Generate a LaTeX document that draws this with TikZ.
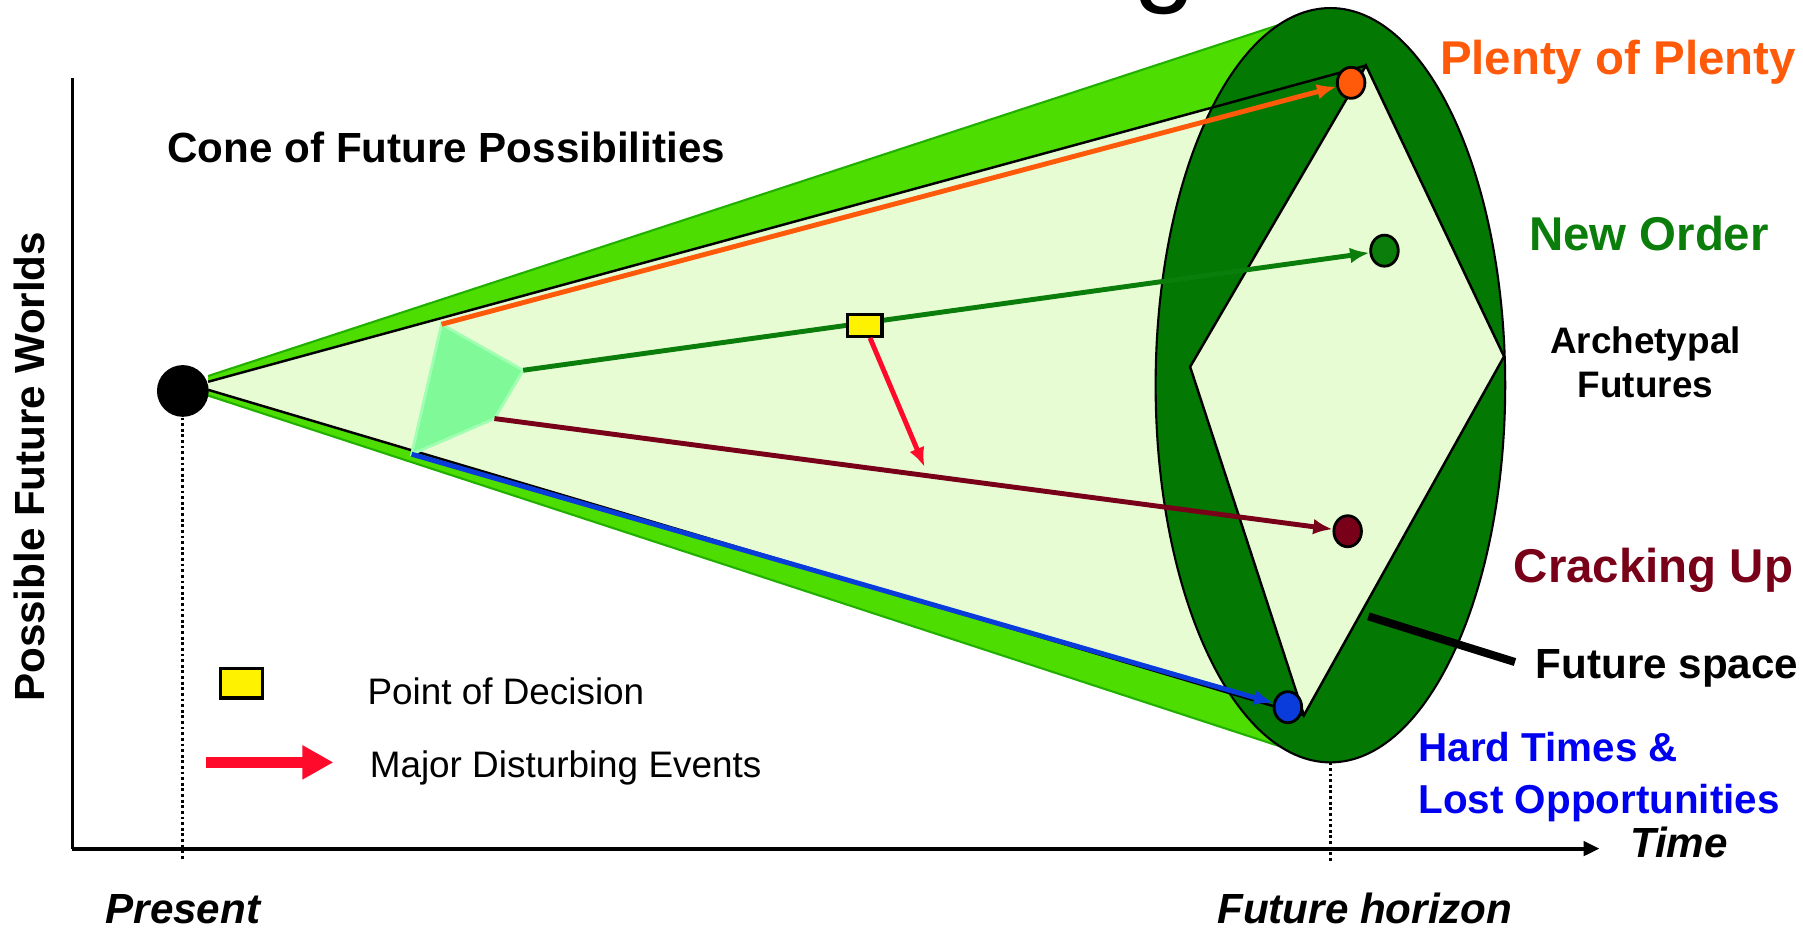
\documentclass[tikz,border=0pt]{standalone}
\usepackage{fontspec}
\setmainfont{Liberation Sans}
\usetikzlibrary{arrows.meta, shapes.geometric}

\definecolor{conegreen}{RGB}{78,221,0}
\definecolor{coneedge}{RGB}{34,176,0}
\definecolor{palegreen}{RGB}{232,252,212}
\definecolor{darkgreen}{RGB}{3,120,3}
\definecolor{mint}{RGB}{128,249,152}
\definecolor{mintedge}{RGB}{160,255,176}
\definecolor{plentyorange}{RGB}{255,90,10}
\definecolor{ordergreen}{RGB}{10,125,10}
\definecolor{crackred}{RGB}{120,0,24}
\definecolor{hardblue}{RGB}{10,60,220}
\definecolor{textblue}{RGB}{0,0,240}
\definecolor{eventred}{RGB}{255,10,42}

\newlength{\unitpx}
\setlength{\unitpx}{0.0115cm}

\begin{document}
\begin{tikzpicture}[x = 0.0115cm, y = -0.0115cm,
	future/.style = {ellipse, draw = black, line width = 0.8pt, minimum width = 24\unitpx, minimum height = 27\unitpx, inner sep = 0pt},
	track/.style = {line width = 1.4pt, -{Latex[length = 5.5pt, width = 4.5pt]}},
	decisionbox/.style = {draw = black, fill = yellow, line width = 0.9pt, inner sep = 0pt},
	dotline/.style = {line width = 0.8pt, dash pattern = on 0.8pt off 0.8pt},
	bigtext/.style = {inner sep = 0pt, font = \fontsize{13.5}{16}\selectfont\bfseries},
	midtext/.style = {inner sep = 0pt, font = \fontsize{12}{14}\selectfont\bfseries},
	axistext/.style = {inner sep = 0pt, font = \fontsize{12}{14}\selectfont\bfseries\itshape},
	legendtext/.style = {inner sep = 0pt, font = \fontsize{10.5}{12.6}\selectfont}]
	\useasboundingbox (0,0) rectangle (1568,810);

	\coordinate (cu) at (181,332);
	\coordinate (cl) at (181,339);
	\coordinate (top) at (1188,57);
	\coordinate (right) at (1308,310);
	\coordinate (bottom) at (1134,622);
	\coordinate (left) at (1035,319);

	\fill[conegreen] (181,327) -- (1154,8) -- (1157,335) -- (1116,650) -- (181,344) -- cycle;
	\draw[coneedge, line width = 0.6pt] (181,327) -- (1154,8) (181,344) -- (1116,650);
	\fill[palegreen] (cu) -- (top) -- (right) -- (bottom) -- (cl) -- cycle;
	\draw[fill = darkgreen, line width = 0.6pt] (1157,335) ellipse [x radius = 152, y radius = 328];
	\draw[fill = palegreen, line width = 0.7pt] (top) -- (right) -- (bottom) -- (left) -- cycle;
	\draw[line width = 0.7pt] (cu) -- (top) (cl) -- (bottom);

	\coordinate (pt) at (384,282);
	\coordinate (pr) at (455,322);
	\coordinate (pb) at (430,364);
	\coordinate (pl) at (358,395);
	\draw[fill = mint, draw = mintedge, line width = 0.8pt] (pt) -- (pr) -- (pb) -- (pl) -- cycle;

	\node[future, fill = plentyorange] (plentydot) at (1175,72) {};
	\node[future, fill = ordergreen] (orderdot) at (1204,218) {};
	\node[future, fill = crackred] (crackdot) at (1172,462) {};
	\node[future, fill = hardblue] (harddot) at (1120,615) {};

	\draw[track, plentyorange] (pt) -- (plentydot);
	\draw[track, ordergreen] (pr) -- (orderdot);
	\draw[track, crackred] (pb) -- (crackdot);
	\draw[track, hardblue] (pl) -- (harddot);

	\node[decisionbox, minimum width = 30\unitpx, minimum height = 19\unitpx] (decision) at (752,283) {};
	\coordinate (event) at (804,406);
	\draw[track, eventred] (decision) -- (event);

	\node[circle, fill = black, minimum size = 45\unitpx, inner sep = 0pt] (now) at (159,340) {};

	\coordinate (yend) at (63,68);
	\coordinate (origin) at (63,738);
	\coordinate (xend) at (1391,738);
	\draw[line width = 1.1pt] (yend) -- (origin);
	\draw[line width = 1.1pt, -{Triangle[length = 4.5pt, width = 4pt]}] (origin) -- (xend);

	\coordinate (nowfoot) at (159,748);
	\coordinate (horhead) at (1157,663);
	\coordinate (horfoot) at (1157,750);
	\draw[dotline] (now) -- (nowfoot);
	\draw[dotline] (horhead) -- (horfoot);

	\node[inner sep = 0pt, font = \fontsize{32}{38}\selectfont, anchor = base] (titleg) at (1013,-7) {g};

	\node[bigtext, text = plentyorange, anchor = base] (plenty) at (1407,65) {Plenty of Plenty};
	\node[bigtext, text = ordergreen, anchor = base] (neworder) at (1434,218) {New Order};
	\node[inner sep = 0pt, font = \fontsize{10.5}{12.75}\selectfont\bfseries, align = center] (archetypal) at (1431,315) {Archetypal\\Futures};
	\node[bigtext, text = crackred, anchor = base] (cracking) at (1438,507) {Cracking Up};
	\node[midtext, anchor = base west] (futspace) at (1335,590) {Future space};
	\node[inner sep = 0pt, font = \fontsize{11.5}{14.7}\selectfont\bfseries, text = textblue, align = left, anchor = west] (hardtimes) at (1233,676) {Hard Times \&\\Lost Opportunities};
	\coordinate (spacept) at (1190,536);
	\draw[line width = 2.3pt, shorten > = 6pt] (spacept) -- (futspace.west);

	\node[axistext, anchor = base west] (timelabel) at (1417,746) {Time};
	\node[axistext, anchor = base] (present) at (159,803) {Present};
	\node[axistext, anchor = base] (horizon) at (1187,803) {Future horizon};
	\node[midtext, anchor = base] (conelabel) at (388,141) {Cone of Future Possibilities};
	\node[midtext, rotate = 90, anchor = base] (worlds) at (39,406) {Possible Future Worlds};

	\node[decisionbox, minimum width = 36\unitpx, minimum height = 26\unitpx] (legbox) at (210,594) {};
	\node[legendtext, anchor = base west] (legdecision) at (319,613) {Point of Decision};
	\coordinate (legtail) at (179,663);
	\coordinate (leghead) at (290,663);
	\draw[eventred, line width = 3.2pt, -{Triangle[length = 0.31cm, width = 0.32cm]}] (legtail) -- (leghead);
	\node[legendtext, anchor = base west] (legevents) at (321,676) {Major Disturbing Events};
\end{tikzpicture}
\end{document}
